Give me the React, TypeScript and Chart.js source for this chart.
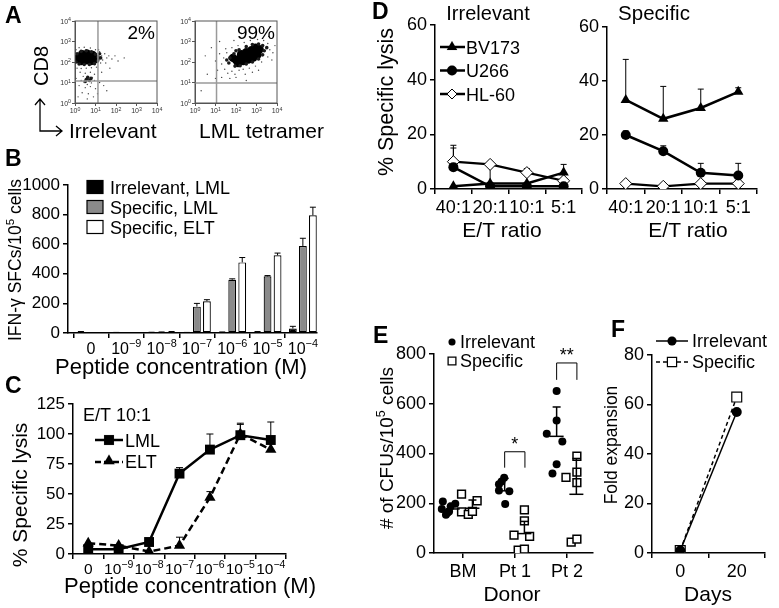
import React, { useEffect, useRef } from "react";
import { Chart, registerables } from "chart.js";

Chart.register(...registerables);

const W = 779;
const H = 608;
const FONT = "'Liberation Sans', Arial, Helvetica, sans-serif";

/* ---------------- Panel A (flow plots, values in decades) ---------------- */
const flowTicks = ["10^0", "10^1", "10^2", "10^3", "10^4"];
const aIrrCore = [[0.2, 2.2], [0.4, 2.25], [0.6, 2.25], [0.8, 2.2], [0.3, 2.05], [0.55, 2.08], [0.78, 2.05], [0.35, 2.38], [0.6, 2.4], [0.85, 2.35], [0.1, 2.15], [1.0, 2.15]];
const aIrrMid = [[0.05, 2.0], [0.1, 2.4], [0.3, 2.52], [0.55, 2.55], [0.8, 2.5], [1.0, 2.38], [1.12, 2.25], [1.1, 2.05], [0.95, 1.92], [0.7, 1.88], [0.45, 1.88], [0.2, 1.9], [0.55, 1.15], [0.7, 1.1], [0.62, 1.25], [0.5, 1.05], [0.78, 1.2], [1.25, 2.2], [1.2, 2.4]];
const aIrrSparse = [[0.05, 2.6], [0.2, 2.7], [0.45, 2.72], [0.75, 2.68], [1.0, 2.6], [1.2, 2.5], [1.3, 2.3], [1.35, 2.1], [1.25, 1.95], [1.45, 2.4], [1.55, 2.2], [1.65, 2.3], [1.8, 2.15], [1.95, 2.3], [2.1, 2.05], [1.5, 1.95], [0.1, 1.7], [0.3, 1.68], [0.55, 1.7], [0.8, 1.72], [1.05, 1.75], [0.25, 1.5], [0.5, 1.45], [0.75, 1.5], [0.95, 1.4], [0.4, 1.3], [0.85, 1.25], [0.45, 1.0], [0.8, 0.98], [0.6, 0.9], [0.3, 1.1], [0.95, 1.1], [0.2, 0.85], [0.5, 0.75], [0.75, 0.8], [1.0, 0.7], [0.35, 0.5], [0.65, 0.45], [0.9, 0.3], [0.15, 0.3], [1.2, 1.0], [1.4, 0.85], [1.3, 1.5], [1.7, 1.7], [1.55, 0.6], [0.05, 1.2], [2.4, 2.2], [1.15, 2.6], [0.6, 0.2], [1.1, 0.45]];
const aTetCore = [[2.0, 2.1], [2.2, 2.18], [2.4, 2.25], [2.6, 2.32], [2.8, 2.4], [3.0, 2.5], [3.15, 2.62], [2.35, 2.05], [2.6, 2.12], [2.85, 2.22], [3.05, 2.35], [2.25, 2.38], [2.5, 2.48], [2.75, 2.58], [2.95, 2.7], [1.85, 2.2], [2.1, 1.95]];
const aTetMid = [[1.65, 1.95], [1.7, 2.2], [1.9, 2.4], [1.95, 1.8], [2.2, 1.82], [2.5, 1.9], [2.8, 2.0], [3.1, 2.15], [3.3, 2.35], [3.38, 2.55], [3.3, 2.8], [3.1, 2.88], [2.8, 2.85], [2.5, 2.75], [2.15, 2.6], [3.5, 2.7], [1.55, 2.1], [2.0, 2.55]];
const aTetSparse = [[1.3, 1.9], [1.4, 2.2], [1.45, 1.65], [1.55, 2.45], [1.6, 1.45], [1.8, 1.55], [1.95, 1.4], [2.15, 1.6], [2.35, 1.65], [2.65, 1.7], [2.95, 1.8], [3.25, 2.0], [3.55, 2.25], [3.65, 2.6], [3.55, 2.9], [3.35, 3.05], [3.05, 3.1], [2.7, 3.05], [2.4, 2.95], [2.1, 2.8], [1.8, 2.7], [1.5, 2.65], [1.2, 2.4], [1.1, 1.6], [1.0, 2.05], [1.3, 1.25], [1.7, 1.2], [2.0, 1.25], [2.45, 1.4], [3.75, 2.1], [3.8, 2.45], [1.2, 3.0], [0.8, 2.7], [0.6, 1.4], [1.9, 3.05], [3.1, 1.6], [2.8, 1.5], [0.3, 0.6], [2.2, 3.2], [3.6, 3.25], [1.0, 1.2], [0.5, 2.3], [2.5, 1.1], [3.9, 2.8]];
const aGateIrr = [1.12, 1.07];
const aGateTet = [1.05, 0.98];
const aPctIrr = "2%";
const aPctTet = "99%";

/* ---------------- Panel B ---------------- */
const bConc = ["0", "10^-9", "10^-8", "10^-7", "10^-6", "10^-5", "10^-4"];
const bIrrLML = [8, 3, 3, 3, 5, 8, 30];
const bIrrLMLErr = [10, 4, 5, 4, 7, 10, 45];
const bSpecLML = [null, null, 5, 178, 360, 383, 588];
const bSpecLMLErr = [null, null, 7, 200, 366, 388, 640];
const bSpecELT = [null, null, 8, 215, 477, 525, 795];
const bSpecELTErr = [null, null, 10, 225, 510, 540, 850];
const bLegend = ["Irrelevant, LML", "Specific, LML", "Specific, ELT"];

/* ---------------- Panel C ---------------- */
const cConc = ["0", "10^-9", "10^-8", "10^-7", "10^-6", "10^-5", "10^-4"];
const cLML = [4, 4, 10, 67, 87, 99, 95];
const cLMLErr = [null, null, null, 72, 100, 108, 110];
const cELT = [9, 7, 2, 7, 47, 100, 87];
const cELTErr = [null, null, null, 14, 52, 109, null];

/* ---------------- Panel D ---------------- */
const dRatios = ["40:1", "20:1", "10:1", "5:1"];
const dIrrBV = [1, 2, 2, 6];
const dIrrBVErr = [null, 8.5, null, 9];
const dIrrU266 = [8, 1, 1, 1];
const dIrrU266Err = [15, null, null, null];
const dIrrHL = [10, 9, 6, 3];
const dIrrHLErr = [16, null, 7.5, null];
const dSpecBV = [33, 26, 30, 36];
const dSpecBVErr = [48, 38, 37, 37.5];
const dSpecU266 = [20, 14, 6, 5];
const dSpecU266Err = [21.5, 16, 9.5, 9.5];
const dSpecHL = [2, 1, 2, 2];
const dLines = ["BV173", "U266", "HL-60"];

/* ---------------- Panel E ---------------- */
const eDonors = ["BM", "Pt 1", "Pt 2"];
const eIrrelevant = [[-0.39, 207], [-0.41, 177], [-0.33, 154], [-0.27, 167], [-0.24, 187], [-0.15, 198], [-0.3, 162], [0.69, 276], [0.79, 303], [0.74, 287], [0.69, 251], [0.89, 248], [0.81, 197], [1.8, 651], [1.8, 533], [1.61, 479], [1.91, 448], [1.8, 357], [1.72, 320]];
const eSpecific = [[-0.03, 237], [-0.03, 165], [0.1, 155], [0.18, 167], [0.27, 210], [1.18, 173], [1.18, 129], [0.98, 72], [1.28, 67], [1.06, 11], [1.18, 16], [2.19, 389], [1.98, 304], [2.19, 325], [2.19, 283], [2.08, 44], [2.19, 56]];
const eIrrMean = [177, 250, 469];
const eIrrErr = [200, 300, 587];
const eSpecMean = [180, 78, 236];
const eSpecErr = [213, 127, 380];
const eSigLabel = ["", "*", "**"];
const eSigTop = [null, 407, 764];
const eSigLeg = [null, 343, 696];

/* ---------------- Panel F ---------------- */
const fDays = ["0", "20"];
const fIrr = [1, 57];
const fSpec = [1, 63];

/* ---------------- helpers ---------------- */
type Rect = { l: number; t: number; r: number; b: number };

function baseOpts(rect: Rect, yw: number, xh: number) {
  return {
    animation: false,
    responsive: false,
    devicePixelRatio: 1,
    events: [],
    layout: { padding: { left: rect.l - yw, top: rect.t, right: W - rect.r, bottom: H - rect.b - xh } },
    plugins: { legend: { display: false }, tooltip: { enabled: false } },
  };
}

function yAxis(min: number, max: number, step: number, size: number, yw: number) {
  return {
    type: "linear",
    min,
    max,
    ticks: { stepSize: step, font: { family: FONT, size }, color: "#000", padding: 3, callback: (v: any) => String(v) },
    grid: { drawOnChartArea: false, color: "#000", lineWidth: 1.5, tickLength: 5 },
    border: { color: "#000", width: 1.5 },
    afterFit: (s: any) => {
      s.width = yw;
    },
  };
}

function xCat(size: number, xh: number, gridOffset: boolean, showLabels = true) {
  return {
    type: "category",
    offset: true,
    ticks: { display: showLabels, font: { family: FONT, size }, color: "#000", padding: 3, maxRotation: 0, minRotation: 0, autoSkip: false },
    grid: { offset: gridOffset, drawOnChartArea: false, color: "#000", lineWidth: 1.5, tickLength: 5 },
    border: { color: "#000", width: 1.5 },
    afterFit: (s: any) => {
      s.height = xh;
    },
  };
}

function text(ctx: any, s: string, x: number, y: number, size: number, o: any = {}) {
  ctx.save();
  ctx.font = `${o.bold ? "bold " : ""}${size}px ${FONT}`;
  ctx.fillStyle = o.color || "#000";
  ctx.textAlign = o.align || "left";
  ctx.textBaseline = o.baseline || "alphabetic";
  if (o.rot) {
    ctx.translate(x, y);
    ctx.rotate(o.rot);
    ctx.fillText(s, 0, 0);
  } else {
    ctx.fillText(s, x, y);
  }
  ctx.restore();
}

/* text with "^" superscripts: "10^-9", "IFN-γ SFCs/10^5 cells" */
function rich(ctx: any, s: string, x: number, y: number, size: number, o: any = {}) {
  const parts: [string, boolean][] = [];
  const re = /\^(\S+?)(?=\s|$)/g;
  let last = 0;
  let m: any;
  while ((m = re.exec(s))) {
    if (m.index > last) parts.push([s.slice(last, m.index), false]);
    parts.push([m[1].replace("-", "−"), true]);
    last = m.index + m[0].length;
  }
  if (last < s.length) parts.push([s.slice(last), false]);
  const supSize = size * (o.supScale || 0.66);
  ctx.save();
  ctx.fillStyle = o.color || "#000";
  ctx.textBaseline = "alphabetic";
  ctx.textAlign = "left";
  let total = 0;
  const widths = parts.map(([t, sup]) => {
    ctx.font = `${sup ? supSize : size}px ${FONT}`;
    const w = ctx.measureText(t).width;
    total += w;
    return w;
  });
  ctx.translate(x, y);
  if (o.rot) ctx.rotate(o.rot);
  let cx = o.align === "center" ? -total / 2 : o.align === "right" ? -total : 0;
  const dy = o.middle ? size * 0.36 : 0;
  parts.forEach(([t, sup], i) => {
    ctx.font = `${sup ? supSize : size}px ${FONT}`;
    ctx.fillText(t, cx, dy + (sup ? -size * (o.supRaise || 0.42) : 0));
    cx += widths[i];
  });
  ctx.restore();
}

function xLabels(chart: any, labels: string[], size: number, gap: number) {
  const xs = chart.scales.x;
  const y = chart.chartArea.bottom + gap + size * 0.72;
  labels.forEach((lab, i) => {
    rich(chart.ctx, lab, xs.getPixelForTick(i), y, size, { align: "center", supScale: 0.68, supRaise: 0.42 });
  });
}

function marker(ctx: any, kind: string, x: number, y: number, r: number, fill: string, lw = 1) {
  ctx.save();
  ctx.beginPath();
  if (kind === "circle") ctx.arc(x, y, r, 0, Math.PI * 2);
  else if (kind === "rect") {
    const s = r * Math.SQRT1_2;
    ctx.rect(x - s, y - s, 2 * s, 2 * s);
  } else if (kind === "triangle") {
    ctx.moveTo(x, y - r);
    ctx.lineTo(x + r * 0.866, y + r * 0.5);
    ctx.lineTo(x - r * 0.866, y + r * 0.5);
    ctx.closePath();
  } else if (kind === "diamond") {
    ctx.moveTo(x, y - r);
    ctx.lineTo(x + r, y);
    ctx.lineTo(x, y + r);
    ctx.lineTo(x - r, y);
    ctx.closePath();
  }
  ctx.fillStyle = fill;
  ctx.fill();
  ctx.lineWidth = lw;
  ctx.strokeStyle = "#000";
  ctx.stroke();
  ctx.restore();
}

function seg(ctx: any, x1: number, y1: number, x2: number, y2: number, lw = 1, color = "#000", dash: number[] = []) {
  ctx.save();
  ctx.beginPath();
  ctx.setLineDash(dash);
  ctx.moveTo(x1, y1);
  ctx.lineTo(x2, y2);
  ctx.lineWidth = lw;
  ctx.strokeStyle = color;
  ctx.stroke();
  ctx.restore();
}

function errBars(chart: any, specs: any[], cap: number) {
  const ctx = chart.ctx;
  const ys = chart.scales.y;
  specs.forEach(([ds, tops]: any) => {
    const meta = chart.getDatasetMeta(ds);
    meta.data.forEach((el: any, i: number) => {
      const v = tops[i];
      if (v == null || !isFinite(el.y)) return;
      const yt = ys.getPixelForValue(v);
      seg(ctx, el.x, el.y, el.x, yt, 1);
      seg(ctx, el.x - cap, yt, el.x + cap, yt, 1);
    });
  });
}

const toXY = (arr: number[][]) => arr.map((p) => ({ x: p[0], y: p[1] }));
const letter = (ctx: any, s: string, x: number, y: number) => text(ctx, s, x, y, 23, { bold: true });

/* ---------------- chart configs ---------------- */
function flowConfig(rect: Rect, core: number[][], mid: number[][], sparse: number[][], gate: number[], pct: string, extra: (ctx: any) => void) {
  const axis = (key: string) => ({
    type: "linear",
    min: 0,
    max: 4,
    afterBuildTicks: (s: any) => {
      s.ticks = flowTicks.map((_, i) => ({ value: i }));
    },
    ticks: { display: false },
    grid: { drawOnChartArea: false, color: "#555", lineWidth: 1, tickLength: 3 },
    border: { color: "#555", width: 1 },
    afterFit: (s: any) => {
      if (key === "x") s.height = 14;
      else s.width = 20;
    },
  });
  return {
    type: "scatter",
    data: {
      datasets: [
        { data: toXY(sparse), pointRadius: 0.7, pointBackgroundColor: "#444", pointBorderWidth: 0 },
        { data: toXY(mid), pointRadius: 1.8, pointBackgroundColor: "#1a1a1a", pointBorderWidth: 0 },
        { data: toXY(core), pointRadius: 4.2, pointBackgroundColor: "#000", pointBorderWidth: 0 },
      ],
    },
    options: { ...baseOpts(rect, 20, 14), scales: { x: axis("x"), y: axis("y") } },
    plugins: [
      {
        id: "flowDeco",
        afterDatasetsDraw(chart: any) {
          const ctx = chart.ctx;
          const a = chart.chartArea;
          const xs = chart.scales.x;
          const ys = chart.scales.y;
          const gx = xs.getPixelForValue(gate[0]);
          const gy = ys.getPixelForValue(gate[1]);
          seg(ctx, gx, a.top, gx, a.bottom, 1.5, "#9a9a9a");
          seg(ctx, a.left, gy, a.right, gy, 1.5, "#9a9a9a");
          ctx.save();
          ctx.strokeStyle = "#555";
          ctx.lineWidth = 1;
          ctx.strokeRect(a.left, a.top, a.right - a.left, a.bottom - a.top);
          ctx.restore();
          flowTicks.forEach((t, i) => {
            rich(ctx, t, xs.getPixelForValue(i), a.bottom + 10, 7, { align: "center", color: "#333", supScale: 0.75, supRaise: 0.35 });
            rich(ctx, t, a.left - 4, ys.getPixelForValue(i) + 2.5, 7, { align: "right", color: "#333", supScale: 0.75, supRaise: 0.35 });
          });
          text(ctx, pct, a.right - 2, a.top + 18, 19, { align: "right" });
          extra(ctx);
        },
      },
    ],
  };
}

function cfgA1() {
  return flowConfig({ l: 75, t: 21, r: 157, b: 103 }, aIrrCore, aIrrMid, aIrrSparse, aGateIrr, aPctIrr, (ctx) => {
    letter(ctx, "A", 5, 23);
    text(ctx, "CD8", 42, 66, 20, { rot: -Math.PI / 2, align: "center", baseline: "middle" });
    ctx.save();
    ctx.beginPath();
    ctx.moveTo(40, 99);
    ctx.lineTo(40, 131);
    ctx.lineTo(62, 131);
    ctx.moveTo(35, 105);
    ctx.lineTo(40, 99);
    ctx.lineTo(45, 105);
    ctx.moveTo(56, 126);
    ctx.lineTo(62, 131);
    ctx.lineTo(56, 136);
    ctx.lineWidth = 1.3;
    ctx.strokeStyle = "#000";
    ctx.stroke();
    ctx.restore();
    text(ctx, "Irrelevant", 69, 138, 21);
  });
}

function cfgA2() {
  return flowConfig({ l: 195, t: 21, r: 277, b: 103 }, aTetCore, aTetMid, aTetSparse, aGateTet, aPctTet, (ctx) => {
    text(ctx, "LML tetramer", 199, 138, 21);
  });
}

function cfgB() {
  const rect = { l: 68, t: 185, r: 317, b: 333 };
  const ds = (vals: any[], color: string) => ({
    data: vals.map((v, i) => ({ x: i, y: v })),
    backgroundColor: color,
    borderColor: "#000",
    borderWidth: 1.2,
    borderSkipped: false,
    categoryPercentage: 0.85,
    barPercentage: 0.78,
  });
  return {
    type: "bar",
    data: { datasets: [ds(bIrrLML, "#000"), ds(bSpecLML, "#8a8a8a"), ds(bSpecELT, "#fff")] },
    options: {
      ...baseOpts(rect, 50, 30),
      scales: {
        x: {
          type: "linear",
          min: -0.65,
          max: 6.4,
          offset: false,
          afterBuildTicks: (s: any) => {
            s.ticks = bConc.map((_, i) => ({ value: i }));
          },
          ticks: { display: false },
          grid: { drawOnChartArea: false, color: "#000", lineWidth: 1.5, tickLength: 5 },
          border: { color: "#000", width: 1.5 },
          afterFit: (s: any) => {
            s.height = 30;
          },
        },
        y: yAxis(0, 1000, 200, 17, 50),
      },
    },
    plugins: [
      {
        id: "bDeco",
        afterDatasetsDraw(chart: any) {
          const ctx = chart.ctx;
          errBars(chart, [[0, bIrrLMLErr], [1, bSpecLMLErr], [2, bSpecELTErr]], 3);
          xLabels(chart, bConc, 16, 9);
          const fills = ["#000", "#8a8a8a", "#fff"];
          bLegend.forEach((s, i) => {
            const cy = 187 + i * 20;
            ctx.save();
            ctx.fillStyle = fills[i];
            ctx.fillRect(87, cy - 6.5, 16, 13);
            ctx.strokeStyle = "#000";
            ctx.lineWidth = 1.2;
            ctx.strokeRect(87, cy - 6.5, 16, 13);
            ctx.restore();
            text(ctx, s, 110, cy + 6.5, 18);
          });
          letter(ctx, "B", 5, 166);
          rich(ctx, "IFN-γ SFCs/10^5 cells", 15, 260, 17.5, { rot: -Math.PI / 2, align: "center", middle: true });
          text(ctx, "Peptide concentration (M)", 181, 374, 22, { align: "center" });
        },
      },
    ],
  };
}

function cfgC() {
  const rect = { l: 73, t: 404, r: 286, b: 554 };
  return {
    type: "line",
    data: {
      labels: cConc,
      datasets: [
        { data: cLML, borderColor: "#000", borderWidth: 2.5, pointStyle: "rect", pointRadius: 7, pointBackgroundColor: "#000", pointBorderColor: "#000", pointBorderWidth: 0 },
        { data: cELT, borderColor: "#000", borderWidth: 2.5, borderDash: [7, 4], pointStyle: "triangle", pointRadius: 6.5, pointBackgroundColor: "#000", pointBorderColor: "#000", pointBorderWidth: 0 },
      ],
    },
    options: { ...baseOpts(rect, 45, 30), scales: { x: xCat(15, 30, true, false), y: yAxis(0, 125, 25, 17, 45) } },
    plugins: [
      {
        id: "cDeco",
        beforeDatasetsDraw(chart: any) {
          errBars(chart, [[0, cLMLErr], [1, cELTErr]], 3.5);
        },
        afterDraw(chart: any) {
          const ctx = chart.ctx;
          xLabels(chart, cConc, 15.5, 9);
          letter(ctx, "C", 5, 393);
          text(ctx, "E/T 10:1", 83, 421, 18);
          seg(ctx, 95, 440, 123, 440, 2.5);
          marker(ctx, "rect", 109, 440, 7, "#000", 0.1);
          text(ctx, "LML", 125, 446.5, 18);
          seg(ctx, 95, 462, 123, 462, 2.5, "#000", [6, 3]);
          marker(ctx, "triangle", 109, 461, 6.5, "#000", 0.1);
          text(ctx, "ELT", 125, 468, 18);
          text(ctx, "% Specific lysis", 21, 495, 21, { rot: -Math.PI / 2, align: "center", baseline: "middle" });
          text(ctx, "Peptide concentration (M)", 190, 593, 22, { align: "center" });
        },
      },
    ],
  };
}

function dDatasets(bv: number[], u: number[], hl: number[]) {
  return [
    { data: bv, borderColor: "#000", borderWidth: 2.5, pointStyle: "triangle", pointRadius: 6, pointBackgroundColor: "#000", pointBorderWidth: 0 },
    { data: u, borderColor: "#000", borderWidth: 2.5, pointStyle: "circle", pointRadius: 5, pointBackgroundColor: "#000", pointBorderWidth: 0 },
    { data: hl, borderColor: "#000", borderWidth: 2.2, pointStyle: "rectRot", pointRadius: 6, pointBackgroundColor: "#fff", pointBorderColor: "#000", pointBorderWidth: 1 },
  ];
}

function cfgD1() {
  const rect = { l: 435, t: 25, r: 582, b: 189 };
  return {
    type: "line",
    data: { labels: dRatios, datasets: dDatasets(dIrrBV, dIrrU266, dIrrHL) },
    options: { ...baseOpts(rect, 35, 30), scales: { x: xCat(18, 30, true), y: yAxis(0, 60, 20, 18, 35) } },
    plugins: [
      {
        id: "d1Deco",
        beforeDatasetsDraw(chart: any) {
          errBars(chart, [[0, dIrrBVErr], [1, dIrrU266Err], [2, dIrrHLErr]], 3);
        },
        afterDraw(chart: any) {
          const ctx = chart.ctx;
          letter(ctx, "D", 372, 19);
          text(ctx, "Irrelevant", 488, 20, 20, { align: "center" });
          text(ctx, "% Specific lysis", 387, 102, 21.5, { rot: -Math.PI / 2, align: "center", baseline: "middle" });
          text(ctx, "E/T ratio", 502, 237, 21, { align: "center" });
          const kinds = ["triangle", "circle", "diamond"];
          const fills = ["#000", "#000", "#fff"];
          const rs = [6, 5, 5];
          dLines.forEach((s, i) => {
            const cy = 47 + i * 23.5;
            seg(ctx, 440, cy, 465, cy, 2.5);
            marker(ctx, kinds[i], 452, cy, rs[i], fills[i], i === 2 ? 1 : 0.1);
            text(ctx, s, 466, cy + 6.5, 18);
          });
        },
      },
    ],
  };
}

function cfgD2() {
  const rect = { l: 607, t: 27, r: 757, b: 189 };
  return {
    type: "line",
    data: { labels: dRatios, datasets: dDatasets(dSpecBV, dSpecU266, dSpecHL) },
    options: { ...baseOpts(rect, 35, 30), scales: { x: xCat(18, 30, true), y: yAxis(0, 60, 20, 18, 35) } },
    plugins: [
      {
        id: "d2Deco",
        beforeDatasetsDraw(chart: any) {
          errBars(chart, [[0, dSpecBVErr], [1, dSpecU266Err]], 3);
        },
        afterDraw(chart: any) {
          const ctx = chart.ctx;
          text(ctx, "Specific", 654, 20, 20.5, { align: "center" });
          text(ctx, "E/T ratio", 688, 237, 21, { align: "center" });
        },
      },
    ],
  };
}

function cfgE() {
  const rect = { l: 434, t: 354, r: 593, b: 553 };
  return {
    type: "scatter",
    data: {
      datasets: [
        { data: toXY(eIrrelevant), pointStyle: "circle", pointRadius: 4, pointBackgroundColor: "#000", pointBorderWidth: 0 },
        { data: toXY(eSpecific), pointStyle: "rect", pointRadius: 5.5, pointBackgroundColor: "#fff", pointBorderColor: "#000", pointBorderWidth: 1.5 },
      ],
    },
    options: {
      ...baseOpts(rect, 45, 30),
      scales: {
        x: {
          type: "linear",
          min: -0.56,
          max: 2.5,
          afterBuildTicks: (s: any) => {
            s.ticks = eDonors.map((_, i) => ({ value: i }));
          },
          ticks: { callback: (_v: any, i: number) => eDonors[i], font: { family: FONT, size: 18 }, color: "#000", padding: 3, maxRotation: 0, autoSkip: false },
          grid: { drawOnChartArea: false, color: "#000", lineWidth: 1.5, tickLength: 5 },
          border: { color: "#000", width: 1.5 },
          afterFit: (s: any) => {
            s.height = 30;
          },
        },
        y: yAxis(0, 800, 200, 18, 45),
      },
    },
    plugins: [
      {
        id: "eDeco",
        afterDatasetsDraw(chart: any) {
          const ctx = chart.ctx;
          const xs = chart.scales.x;
          const ys = chart.scales.y;
          const groups: any[] = [[eIrrMean, eIrrErr, -0.2], [eSpecMean, eSpecErr, 0.18]];
          groups.forEach(([m, e, off]) => {
            m.forEach((mv: number, i: number) => {
              const x = xs.getPixelForValue(i + off);
              const y = ys.getPixelForValue(mv);
              const ye = ys.getPixelForValue(e[i]);
              seg(ctx, x - 7, y, x + 7, y, 1.5);
              seg(ctx, x, y, x, ye, 1.5);
              seg(ctx, x - 4, ye, x + 4, ye, 1.5);
            });
          });
          eSigLabel.forEach((lab, i) => {
            if (!lab) return;
            const xl = xs.getPixelForValue(i - 0.2);
            const xr = xs.getPixelForValue(i + 0.19);
            const yt = ys.getPixelForValue(eSigTop[i] as number);
            const yl = ys.getPixelForValue(eSigLeg[i] as number);
            ctx.save();
            ctx.beginPath();
            ctx.moveTo(xl, yl);
            ctx.lineTo(xl, yt);
            ctx.lineTo(xr, yt);
            ctx.lineTo(xr, yl);
            ctx.lineWidth = 1;
            ctx.strokeStyle = "#000";
            ctx.stroke();
            ctx.restore();
            text(ctx, lab, (xl + xr) / 2, yt - 2, 18, { align: "center" });
          });
        },
        afterDraw(chart: any) {
          const ctx = chart.ctx;
          letter(ctx, "E", 373, 343);
          marker(ctx, "circle", 452, 342, 3.5, "#000", 0.1);
          text(ctx, "Irrelevant", 460, 348, 18);
          marker(ctx, "rect", 452, 361, 5.5, "#fff", 1.3);
          text(ctx, "Specific", 460, 367, 18);
          rich(ctx, "# of CFUs/10^5 cells", 386, 448, 19, { rot: -Math.PI / 2, align: "center", middle: true });
          text(ctx, "Donor", 512, 601, 21, { align: "center" });
        },
      },
    ],
  };
}

function cfgF() {
  const rect = { l: 652, t: 355, r: 765, b: 553 };
  return {
    type: "line",
    data: {
      labels: fDays,
      datasets: [
        { data: fIrr, borderColor: "#000", borderWidth: 1.5, pointStyle: "circle", pointRadius: 5, pointBackgroundColor: "#000", pointBorderWidth: 0 },
        { data: fSpec, borderColor: "#000", borderWidth: 1.5, borderDash: [4, 3], pointStyle: "rect", pointRadius: 7, pointBackgroundColor: "#fff", pointBorderColor: "#000", pointBorderWidth: 1.2 },
      ],
    },
    options: { ...baseOpts(rect, 35, 30), scales: { x: xCat(18, 30, true), y: yAxis(0, 80, 20, 18, 35) } },
    plugins: [
      {
        id: "fDeco",
        afterDraw(chart: any) {
          const ctx = chart.ctx;
          letter(ctx, "F", 611, 337);
          seg(ctx, 656, 341, 688, 341, 1.5);
          marker(ctx, "circle", 672, 341, 4.5, "#000", 0.1);
          text(ctx, "Irrelevant", 692, 347, 18);
          seg(ctx, 656, 362, 688, 362, 1.5, "#000", [4, 3]);
          marker(ctx, "rect", 672, 362, 6.5, "#fff", 1.2);
          text(ctx, "Specific", 692, 368, 18);
          text(ctx, "Fold expansion", 612, 445, 17.5, { rot: -Math.PI / 2, align: "center", baseline: "middle" });
          text(ctx, "Days", 708, 601, 21, { align: "center" });
        },
      },
    ],
  };
}

export default function App() {
  const refs = useRef<(HTMLCanvasElement | null)[]>([]);
  useEffect(() => {
    const configs = [cfgA1(), cfgA2(), cfgB(), cfgC(), cfgD1(), cfgD2(), cfgE(), cfgF()];
    const charts = configs.map((c, i) => new Chart(refs.current[i] as HTMLCanvasElement, c as any));
    return () => charts.forEach((c) => c.destroy());
  }, []);
  return (
    <div style={{ position: "fixed", left: 0, top: 0, width: W, height: H, background: "#fff", overflow: "hidden" }}>
      {Array.from({ length: 8 }).map((_, i) => (
        <canvas
          key={i}
          ref={(el) => {
            refs.current[i] = el;
          }}
          width={W}
          height={H}
          style={{ position: "absolute", left: 0, top: 0, width: W, height: H }}
        />
      ))}
    </div>
  );
}
